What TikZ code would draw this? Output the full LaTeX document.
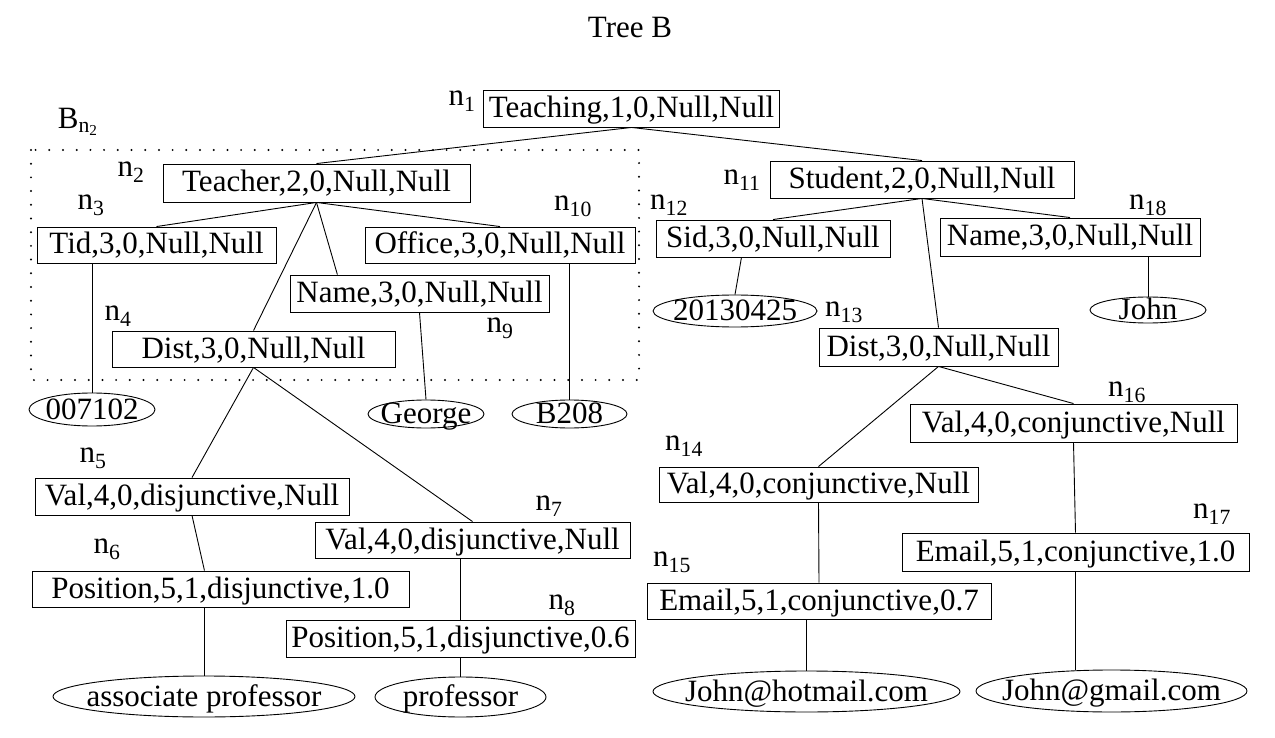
\documentclass[tikz,border=0pt]{standalone}
\usepackage{fontspec}
\setmainfont{Liberation Serif}
\usetikzlibrary{shapes.geometric}

\tikzset{
    attr/.style 2 args={draw, rectangle, inner sep=0pt,
        minimum width=#1, minimum height=#2,
        text height=23pt, text depth=5pt},
    leaf/.style 2 args={draw, ellipse, inner sep=0pt,
        minimum width=#1, minimum height=#2},
    every label/.style={inner sep=0pt, text height=22pt, text depth=3pt},
    nlab/.style={inner sep=0pt}
}

\begin{document}
\begin{tikzpicture}[x=1pt, y=-1pt, line width=0.9pt,
        every node/.style={font=\fontsize{31}{37}\selectfont}]
        \useasboundingbox (0, 0) rectangle (1275, 738);

        \node (title) at (630, 28) {Tree B};

        % the subtree B_{n_2}
        \draw[line width=2.2pt, line cap=round, dash pattern=on 0pt off 13.7pt]
            (31, 150) rectangle (639, 380);
        \node[nlab] (bn2) at (78, 122) {B\textsubscript{n\textsubscript{2}}};

        % element nodes
        \node[attr={296pt}{37pt}] (n1) at (631.5, 108.5) {Teaching,1,0,Null,Null};
        \node[attr={307pt}{38pt}] (n2) at (316.5, 183) {Teacher,2,0,Null,Null};
        \node[attr={239pt}{36pt}] (n3) at (156.5, 245) {Tid,3,0,Null,Null};
        \node[attr={283pt}{36pt}] (n4) at (253.5, 349) {Dist,3,0,Null,Null};
        \node[attr={314pt}{37pt}] (n5) at (192, 496.5) {Val,4,0,disjunctive,Null};
        \node[attr={377pt}{36pt}] (n6) at (220.5, 589) {Position,5,1,disjunctive,1.0};
        \node[attr={315pt}{36pt}] (n7) at (472.5, 540) {Val,4,0,disjunctive,Null};
        \node[attr={349pt}{37pt}] (n8) at (460.5, 638.5) {Position,5,1,disjunctive,0.6};
        \node[attr={259pt}{37pt}] (n9) at (419.5, 293.5) {Name,3,0,Null,Null};
        \node[attr={270pt}{36pt}] (n10) at (500, 245) {Office,3,0,Null,Null};
        \node[attr={304pt}{37pt}] (n11) at (922, 179.5) {Student,2,0,Null,Null};
        \node[attr={234pt}{37pt}] (n12) at (773, 238.5) {Sid,3,0,Null,Null};
        \node[attr={239pt}{38pt}] (n13) at (938.5, 347) {Dist,3,0,Null,Null};
        \node[attr={319pt}{35pt}] (n14) at (818.5, 484.5) {Val,4,0,conjunctive,Null};
        \node[attr={344pt}{36pt}] (n15) at (819, 601) {Email,5,1,conjunctive,0.7};
        \node[attr={327pt}{38pt}] (n16) at (1073.5, 423) {Val,4,0,conjunctive,Null};
        \node[attr={347pt}{38pt}] (n17) at (1075.5, 552) {Email,5,1,conjunctive,1.0};
        \node[attr={260pt}{38pt}] (n18) at (1070, 237) {Name,3,0,Null,Null};

        % values
        \node[leaf={126pt}{33pt}, label=center:007102] (tid) at (92, 409.5) {};
        \node[leaf={116pt}{28pt}, label=center:George] (george) at (426, 414) {};
        \node[leaf={115pt}{28pt}, label=center:B208] (office) at (569.5, 414) {};
        \node[leaf={302pt}{41pt}, label=center:associate professor] (assoc) at (204, 696.5) {};
        \node[leaf={171pt}{40pt}, label=center:professor] (prof) at (460.5, 697) {};
        \node[leaf={164pt}{32pt}, label=center:20130425] (sid) at (735, 311) {};
        \node[leaf={116pt}{26pt}, label=center:John] (john) at (1148, 310) {};
        \node[leaf={307pt}{41pt}, label=center:John@hotmail.com] (hotmail) at (806.5, 691.5) {};
        \node[leaf={271pt}{42pt}, label=center:John@gmail.com] (gmail) at (1111.5, 691) {};

        % node ids
        \node[nlab] (l1) at (462, 101) {n\textsubscript{1}};
        \node[nlab] (l2) at (131, 172) {n\textsubscript{2}};
        \node[nlab] (l3) at (91, 205) {n\textsubscript{3}};
        \node[nlab] (l4) at (118, 316) {n\textsubscript{4}};
        \node[nlab] (l5) at (93, 458) {n\textsubscript{5}};
        \node[nlab] (l6) at (107, 549) {n\textsubscript{6}};
        \node[nlab] (l7) at (549, 506) {n\textsubscript{7}};
        \node[nlab] (l8) at (562, 605) {n\textsubscript{8}};
        \node[nlab] (l9) at (500, 328) {n\textsubscript{9}};
        \node[nlab] (l10) at (573, 206) {n\textsubscript{10}};
        \node[nlab] (l11) at (742, 180) {n\textsubscript{11}};
        \node[nlab] (l12) at (669, 205) {n\textsubscript{12}};
        \node[nlab] (l13) at (844, 312) {n\textsubscript{13}};
        \node[nlab] (l14) at (684, 446) {n\textsubscript{14}};
        \node[nlab] (l15) at (672, 562) {n\textsubscript{15}};
        \node[nlab] (l16) at (1127, 392) {n\textsubscript{16}};
        \node[nlab] (l17) at (1212, 514) {n\textsubscript{17}};
        \node[nlab] (l18) at (1148, 205) {n\textsubscript{18}};

        % edges
        \draw (n1.south) -- (n2.north);
        \draw (n1.south) -- (n11.north);
        \draw (n2.south) -- (n3.north);
        \draw (n2.south) -- (n4.north);
        \draw (n2.south) -- (n9.167);
        \draw (n2.south) -- (n10.north);
        \draw (n3.south -| tid.north) -- (tid.north);
        \draw (n9.south) -- (george.north);
        \draw (n10.south -| office.north) -- (office.north);
        \draw (n4.south) -- (n5.north);
        \draw (n4.south) -- (n7.north);
        \draw (n5.south) -- (n6.131);
        \draw (n6.south -| assoc.north) -- (assoc.north);
        \draw (n7.south -| n8.north) -- (n8.north);
        \draw (n8.south) -- (prof.north);

        \draw (n11.south) -- (n12.north);
        \draw (n11.south) -- (n13.north);
        \draw (n11.south) -- (n18.north);
        \draw (n12.211) -- (sid.north);
        \draw (n18.south -| john.north) -- (john.north);
        \draw (n13.south) -- (n14.north);
        \draw (n13.south) -- (n16.north);
        \draw (n14.south) -- (n15.north);
        \draw (n15.south -| hotmail.north) -- (hotmail.north);
        \draw (n16.south) -- (n17.north);
        \draw (n17.south) -- (n17.south |- gmail.north);
\end{tikzpicture}
\end{document}
